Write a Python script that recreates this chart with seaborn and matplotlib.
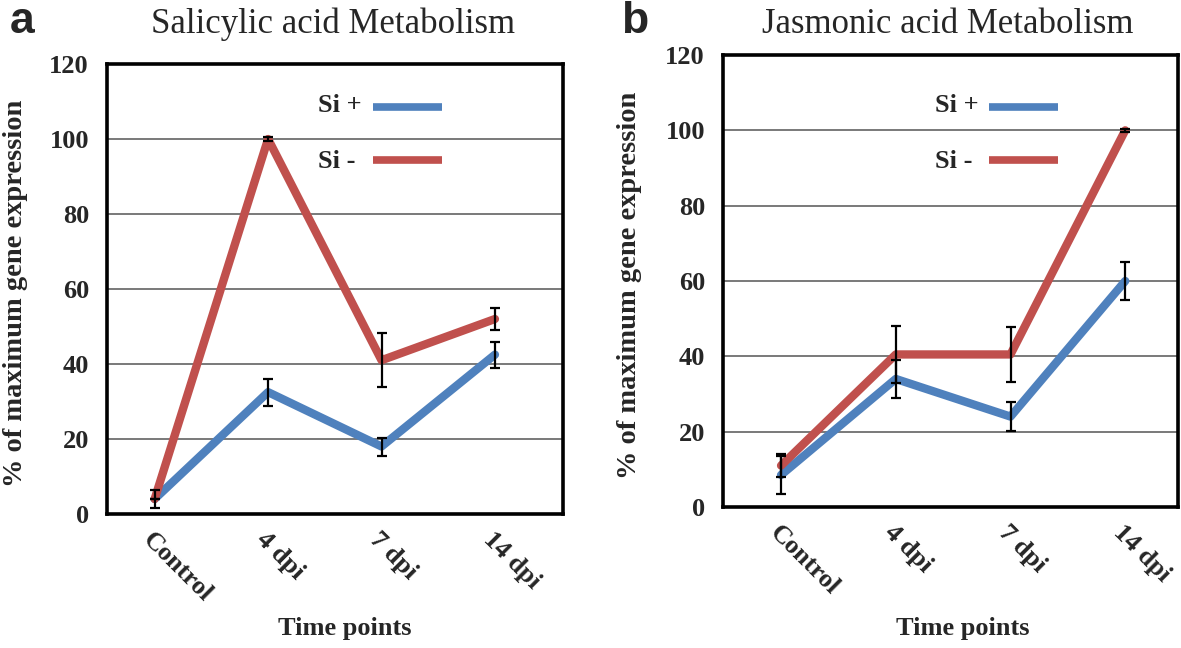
import numpy as np
import pandas as pd
import matplotlib.pyplot as plt
import seaborn as sns

# data
time_points = ["Control", "4 dpi", "7 dpi", "14 dpi"]
series = ["Si +", "Si -"]

sa_si_plus = [4, 32.5, 18, 42.5]
sa_si_minus = [4, 100, 41, 52]
sa_err_plus = [2.4, 3.6, 2.4, 3.5]
sa_err_minus = [0, 0.5, 7.2, 3]

ja_si_plus = [8.5, 34, 24, 60]
ja_si_minus = [11, 40.5, 40.5, 100]
ja_err_plus = [5, 5, 3.8, 5.1]
ja_err_minus = [3, 7.5, 7.2, 0.4]

colors = {"Si +": "#4F81BD", "Si -": "#C0504D"}

sns.set_style("white")
plt.rcParams["font.family"] = "serif"
plt.rcParams["font.serif"] = ["Liberation Serif", "DejaVu Serif"]

W, H = 1181, 648
fig = plt.figure(figsize=(W / 100, H / 100), dpi=100)


def px_axes(left, top, right, bottom):
    ax = fig.add_axes([left / W, 1 - bottom / H, (right - left) / W, (bottom - top) / H])
    ax.px_box = (left, top, right, bottom)
    return ax


def to_ax(ax, x, y):
    left, top, right, bottom = ax.px_box
    return (x - left) / (right - left), (bottom - y) / (bottom - top)


def panel(ax, plus, minus, err_plus, err_minus, xlim, leg_px, ylab_x, xlab_xy):
    df = pd.DataFrame({
        "time": time_points * 2,
        "value": plus + minus,
        "series": [series[0]] * 4 + [series[1]] * 4,
    })
    sns.lineplot(data=df, x="time", y="value", hue="series", hue_order=series,
                 palette=colors, linewidth=6, sort=False, ax=ax, zorder=3,
                 legend=False)
    ax.errorbar(time_points, plus, yerr=err_plus, fmt="none", ecolor="black",
                elinewidth=1.6, capsize=3.5, capthick=1.6, zorder=4)
    ax.errorbar(time_points, minus, yerr=err_minus, fmt="none", ecolor="black",
                elinewidth=1.6, capsize=3.5, capthick=1.6, zorder=4)

    ax.set_ylim(0, 120)
    ax.set_yticks(range(0, 121, 20))
    ax.set_xlim(*xlim)
    ax.yaxis.grid(True, color="#555555", linewidth=1.1, zorder=1)
    ax.xaxis.grid(False)
    ax.set_axisbelow(True)
    for s in ax.spines.values():
        s.set_visible(True)
        s.set_color("black")
        s.set_linewidth(2.6)
    ax.tick_params(axis="both", length=0, labelsize=19)
    ax.tick_params(axis="y", pad=13)
    ax.tick_params(axis="x", pad=10)
    for lab in ax.get_yticklabels():
        lab.set_fontweight("bold")
    ax.set_xticks(range(len(time_points)))
    ax.set_xticklabels(time_points, rotation=-45, ha="left", va="top",
                       rotation_mode="anchor", fontweight="bold", fontsize=19)

    ax.set_ylabel("% of maximum gene expression", fontsize=20.5, fontweight="bold")
    ax.yaxis.set_label_coords(ylab_x, 0.49)
    ax.set_xlabel("Time points", fontsize=19, fontweight="bold")
    ax.xaxis.set_label_coords(*xlab_xy)

    # Excel-style legend: label then a short line
    tx, lx0, lx1 = leg_px
    for name, base_y, line_y in [(series[0], 112, 107), (series[1], 168, 160)]:
        ax.text(*to_ax(ax, tx, base_y), name, transform=ax.transAxes,
                ha="left", va="baseline", fontsize=19, fontweight="bold")
        (x0, y0), (x1, _) = to_ax(ax, lx0, line_y), to_ax(ax, lx1, line_y)
        ax.plot([x0, x1], [y0, y0], transform=ax.transAxes, color=colors[name],
                linewidth=5.5, solid_capstyle="butt", clip_on=False)


ax1 = px_axes(107, 64, 563, 514)
panel(ax1, sa_si_plus, sa_si_minus, sa_err_plus, sa_err_minus,
      (-0.42, 3.6), (318, 373, 442), -0.173, (0.522, -0.229))

ax2 = px_axes(723, 55, 1178, 507)
panel(ax2, ja_si_plus, ja_si_minus, ja_err_plus, ja_err_minus,
      (-0.506, 3.46), (935, 989, 1058), -0.178, (0.527, -0.243))

fig.text(333 / W, 1 - 33 / H, "Salicylic acid Metabolism", ha="center",
         va="baseline", fontsize=25)
fig.text(948 / W, 1 - 33 / H, "Jasmonic acid Metabolism", ha="center",
         va="baseline", fontsize=25)
fig.text(10 / W, 1 - 33 / H, "a", ha="left", va="baseline", fontsize=32,
         fontweight="bold", family="Liberation Sans")
fig.text(621 / W, 1 - 33 / H, "b", ha="left", va="baseline", fontsize=32,
         fontweight="bold", family="Liberation Sans")

fig.savefig("out.png", dpi=100)
